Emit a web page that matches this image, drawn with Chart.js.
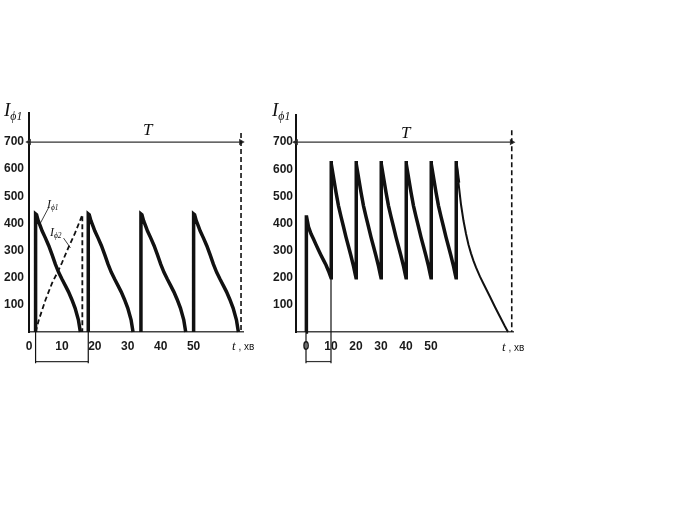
<!DOCTYPE html>
<html>
<head>
<meta charset="utf-8">
<script src="https://cdn.jsdelivr.net/npm/chart.js@4.4.0/dist/chart.umd.min.js"></script>
<style>
body { margin: 0; background: #fff; }
#wrap { position: relative; width: 680px; height: 527px; overflow: hidden; background: #fff; }
canvas { position: absolute; }
.lab { position: absolute; font-family: "Liberation Serif", serif; font-style: italic; color: #111; white-space: nowrap; line-height: 1; }
.lab sub { font-size: 0.62em; vertical-align: -0.3em; }
.tx { position: absolute; font-family: "Liberation Sans", Arial, sans-serif; font-size: 10px; color: #111; white-space: nowrap; line-height: 1; }
.tx i { font-family: "Liberation Serif", serif; font-size: 13px; }
</style>
</head>
<body>
<div id="wrap">
  <canvas id="left" width="265" height="280" style="left:0;top:100px"></canvas>
  <canvas id="right" width="265" height="280" style="left:265px;top:100px"></canvas>

  <div class="lab" style="left:4px;top:100px;font-size:19px">I<sub>ϕ1</sub></div>
  <div class="lab" style="left:272px;top:100px;font-size:19px">I<sub>ϕ1</sub></div>
  <div class="lab" style="left:143px;top:121px;font-size:17px">T</div>
  <div class="lab" style="left:401px;top:124px;font-size:17px">T</div>
  <div class="tx" style="left:232px;top:339px"><i>t</i> , хв</div>
  <div class="tx" style="left:502px;top:340px"><i>t</i> , хв</div>
  <div class="lab" style="left:47px;top:198px;font-size:12px">I<sub>ϕ1</sub></div>
  <div class="lab" style="left:50px;top:226px;font-size:12px">I<sub>ϕ2</sub></div>
</div>

<script>
// axis labels (both panels)
const yTicks = [100, 200, 300, 400, 500, 600, 700];
const xTicks = [0, 10, 20, 30, 40, 50];

// ---- left panel ----
// start of every I_ф1 pulse, min
const leftStarts = [2, 18, 34, 50];
// one pulse: minutes after start / current
const leftDt = [0, 0, 0.3, 0.8, 1.5, 2, 3, 4, 5, 6, 7, 8, 9, 10, 11, 12, 13, 13.6];
const leftI = [0, 435, 432, 410, 388, 372, 346, 318, 285, 250, 220, 195, 172, 148, 120, 88, 45, 0];
// dashed I_ф2 in the first interval
const phi2T = [2, 3, 5, 7, 8.5, 10, 12, 14, 16.2, 16.2];
const phi2I = [0, 45, 118, 180, 216, 255, 312, 365, 432, 0];
const leftT = 64.4;              // end of the period T
const leftBracket = [2, 18];     // interval marked under the axis
const phi1LeaderT = [3.5, 5.9], phi1LeaderI = [402, 457];
const phi2LeaderT = [10.5, 12.6], phi2LeaderI = [346, 310];

// ---- right panel ----
const rightFirstT = [0, 0, 0.3, 1, 2, 3, 4, 5, 6, 7, 8, 9, 10];
const rightFirstI = [0, 430, 428, 388, 362, 343, 322, 302, 283, 265, 247, 225, 200];
const rightStarts = [10, 20, 30, 40, 50];
const rightDt = [0, 0, 0.3, 1, 2, 3, 4, 5, 6, 7, 8, 9, 9.7, 10];
const rightI = [200, 630, 620, 570, 515, 465, 425, 388, 350, 315, 280, 243, 212, 200];
const rightTailT = [60, 60.3, 61, 62, 63, 64, 65, 66, 67, 68, 69.6, 71, 73.6, 75.6, 77.6, 79.5, 80.8];
const rightTailI = [630, 615, 550, 470, 410, 362, 322, 290, 262, 238, 204, 178, 130, 92, 56, 22, 0];
const rightT = 82.3;
const rightBracket = [0, 10];

const legY = -115, bracketY = -109;
const ink = '#111';

function pts(ts, is) {
    return ts.map((t, k) => ({ x: t, y: is[k] }));
}

function pulses(starts, dt, cur) {
    let out = [];
    starts.forEach(s => {
        dt.forEach((d, k) => out.push({ x: s + d, y: cur[k] }));
    });
    return out;
}

function line(data, width, extra) {
    return Object.assign({
        data: data,
        showLine: true,
        borderColor: ink,
        backgroundColor: ink,
        borderWidth: width,
        pointRadius: 0,
        tension: 0,
        clip: false
    }, extra || {});
}

function arrowLine(x0, x1, y) {
    return line([{ x: x0, y: y }, { x: x1, y: y }], 1.2, {
        borderColor: '#333',
        pointStyle: 'triangle',
        pointRadius: 2.5,
        pointRotation: [-90, 90]
    });
}

function makeOptions(xmin, xmax, ymax, yWidth, yPad, pad) {
    const font = { family: 'Liberation Sans, Arial, sans-serif', size: 12, weight: 'bold' };
    return {
        responsive: false,
        animation: false,
        devicePixelRatio: 1,
        layout: { padding: pad },
        plugins: { legend: { display: false }, tooltip: { enabled: false } },
        scales: {
            x: {
                type: 'linear', min: xmin, max: xmax,
                grid: { display: false, drawTicks: false },
                border: { display: true, color: '#444', width: 1.5 },
                ticks: { color: '#1a1a1a', font: font, padding: 7, maxRotation: 0 },
                afterBuildTicks: s => { s.ticks = xTicks.map(v => ({ value: v })); },
                afterFit: s => { s.height = 48; }
            },
            y: {
                type: 'linear', min: 0, max: ymax,
                grid: { display: false, drawTicks: false },
                border: { display: true, color: ink, width: 2 },
                ticks: { color: '#1a1a1a', font: font, padding: yPad },
                afterBuildTicks: s => { s.ticks = yTicks.map(v => ({ value: v })); },
                afterFit: s => { s.width = yWidth; }
            }
        }
    };
}

// left chart
let leftMain = [];
leftStarts.forEach(s => {
    leftDt.forEach((d, k) => leftMain.push({ x: s + d, y: leftI[k] }));
    leftMain.push({ x: s + 14, y: null });
});

new Chart(document.getElementById('left'), {
    type: 'scatter',
    data: {
        datasets: [
            line(leftMain, 3.5),
            line(pts(phi2T, phi2I), 1.8, { borderDash: [5, 3] }),
            line(pts(phi1LeaderT, phi1LeaderI), 0.8),
            line(pts(phi2LeaderT, phi2LeaderI), 0.8),
            line([{ x: leftT, y: 733 }, { x: leftT, y: 0 }], 1.6, { borderDash: [5, 3] }),
            arrowLine(0, leftT, 700),
            line([{ x: leftBracket[0], y: legY }, { x: leftBracket[0], y: 0 }, { x: 10, y: null },
                  { x: leftBracket[1], y: legY }, { x: leftBracket[1], y: 0 }], 1.2),
            arrowLine(leftBracket[0], leftBracket[1], bracketY)
        ]
    },
    options: makeOptions(0, 65, 807, 29, 5, { top: 13, right: 22, left: 0, bottom: 0 })
});

// right chart
let rightMain = pts(rightFirstT, rightFirstI)
    .concat(pulses(rightStarts, rightDt, rightI))
    .concat([{ x: 60, y: 200 }])
    .concat(pts(rightTailT.slice(0, 3), rightTailI.slice(0, 3)));

new Chart(document.getElementById('right'), {
    type: 'scatter',
    data: {
        datasets: [
            line(rightMain, 3.5),
            line(pts(rightTailT, rightTailI), 2),
            line([{ x: rightT, y: 744 }, { x: rightT, y: 0 }], 1.6, { borderDash: [5, 3] }),
            arrowLine(-4, rightT, 700),
            line([{ x: rightBracket[0], y: legY }, { x: rightBracket[0], y: 0 }, { x: 5, y: null },
                  { x: rightBracket[1], y: legY }, { x: rightBracket[1], y: 200 }], 1.2),
            arrowLine(rightBracket[0], rightBracket[1], bracketY)
        ]
    },
    options: makeOptions(-4, 82.8, 800, 31, 3, { top: 15, right: 17, left: 0, bottom: 0 })
});
</script>
</body>
</html>
